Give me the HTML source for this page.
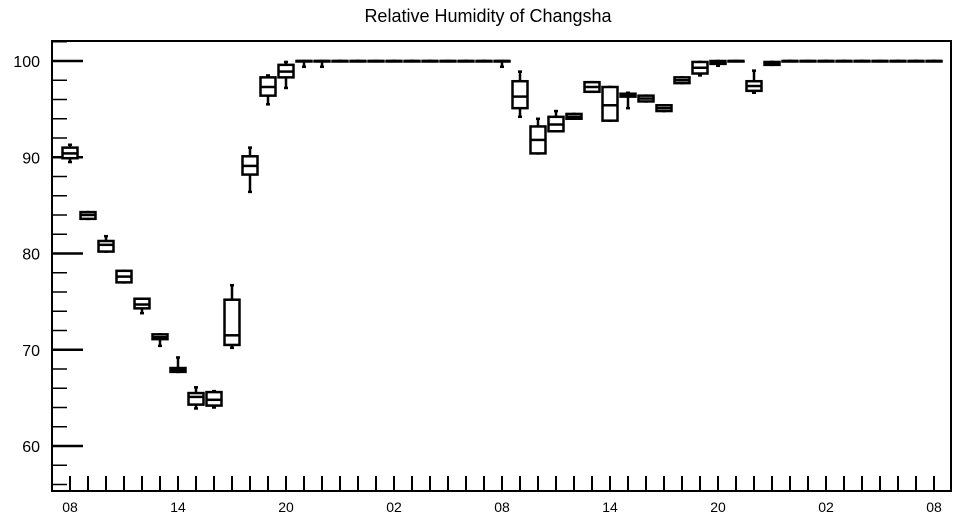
<!DOCTYPE html>
<html><head><meta charset="utf-8"><style>
html,body{margin:0;padding:0;background:#fff;}
svg{display:block;font-family:"Liberation Sans",Arial,sans-serif;}
</style></head><body>
<svg id="chart" width="957" height="520" viewBox="0 0 957 520" xmlns="http://www.w3.org/2000/svg">
<rect x="0" y="0" width="957" height="520" fill="#fff"/>
<text x="488" y="22" font-size="18" text-anchor="middle" fill="#000">Relative Humidity of Changsha</text>
<g id="grid"></g>
<g id="boxes"></g>
<rect x="52" y="41" width="899" height="450" fill="none" stroke="#000" stroke-width="2"/>
</svg>
<script>
const hours = [];
for (let i = 0; i <= 48; i++) hours.push(i);
const xTickLabels = ["08","14","20","02","08","14","20","02","08"];
const yTickLabels = [60,70,80,90,100];
const maxV = [91.3,84.3,81.8,78.2,75.3,71.6,69.2,66.1,65.7,76.7,91.0,98.5,99.9,100,100,100,100,100,100,100,100,100,100,100,100,98.9,94.0,94.8,94.5,97.8,97.3,96.7,96.4,95.4,98.3,99.9,100,100,99.0,99.9,100,100,100,100,100,100,100,100,100];
const q3V  = [91.0,84.3,81.3,78.2,75.3,71.6,68.1,65.5,65.6,75.2,90.1,98.3,99.6,100,100,100,100,100,100,100,100,100,100,100,100,97.9,93.2,94.2,94.5,97.8,97.3,96.6,96.4,95.4,98.3,99.9,100,100,97.9,99.9,100,100,100,100,100,100,100,100,100];
const medV = [90.4,84.0,80.9,77.6,74.7,71.3,67.9,65.1,64.8,71.5,89.1,97.3,98.9,100,100,100,100,100,100,100,100,100,100,100,100,96.3,91.8,93.4,94.2,97.3,95.4,96.5,96.1,95.1,98.0,99.3,99.9,100,97.4,99.8,100,100,100,100,100,100,100,100,100];
const q1V  = [89.9,83.6,80.2,77.0,74.3,71.1,67.7,64.3,64.2,70.5,88.2,96.4,98.3,100,100,100,100,100,100,100,100,100,100,100,100,95.1,90.4,92.7,94.0,96.8,93.8,96.3,95.8,94.8,97.7,98.7,99.7,100,96.9,99.6,100,100,100,100,100,100,100,100,100];
const minV = [89.5,83.6,80.2,77.0,73.8,70.4,67.7,63.9,64.0,70.2,86.4,95.5,97.2,99.4,99.4,100,100,100,100,100,100,100,100,100,99.4,94.2,90.4,92.9,94.0,96.8,93.8,95.1,95.8,94.8,97.7,98.5,99.5,100,96.7,99.6,100,100,100,100,100,100,100,100,100];

const NS = "http://www.w3.org/2000/svg";
function X(h){ return 52 + (h + 1) * 18; }
function Y(v){ return 61 + (100 - v) * 9.625; }
function mk(tag, attrs, parent){
  const e = document.createElementNS(NS, tag);
  for (const k in attrs) e.setAttribute(k, attrs[k]);
  parent.appendChild(e);
  return e;
}
const grid = document.getElementById("grid");
const boxes = document.getElementById("boxes");
// y ticks
for (let v = 56; v <= 102; v += 2) {
  const major = v % 10 === 0;
  const t = mk("line", {x1:52, x2: major ? 83 : 67, y1: Y(v), y2: Y(v), stroke:"#000", "stroke-width": major ? 2.5 : 1.5}, grid);
  
  
}
yTickLabels.forEach(v => {
  const t = mk("text", {x: 40, y: Y(v) + 6, "font-size": 16, "text-anchor": "end"}, grid);
  t.textContent = String(v);
  
  
});
// x ticks
hours.forEach(h => {
  const t = mk("line", {x1: X(h), x2: X(h), y1: 476, y2: 491, stroke:"#000", "stroke-width": 2}, grid);
  
  
});
xTickLabels.forEach((s, i) => {
  const t = mk("text", {x: X(i * 6), y: 512, "font-size": 14, "text-anchor": "middle"}, grid);
  t.textContent = s;
  
  
});
// boxes
hours.forEach(h => {
  const g = mk("g", {stroke:"#000", "stroke-width": 2.5, fill:"none"}, boxes);
  
  
  const cx = X(h), w = 7.5;
  mk("line", {x1: cx, x2: cx, y1: Y(maxV[h]), y2: Y(q3V[h])}, g);
  mk("line", {x1: cx, x2: cx, y1: Y(q1V[h]), y2: Y(minV[h])}, g);
  mk("line", {x1: cx - 2, x2: cx + 2, y1: Y(maxV[h]), y2: Y(maxV[h])}, g);
  mk("line", {x1: cx - 2, x2: cx + 2, y1: Y(minV[h]), y2: Y(minV[h])}, g);
  const top = Y(q3V[h]), bot = Y(q1V[h]);
  mk("rect", {x: cx - w, y: top, width: 2 * w, height: Math.max(bot - top, 0.5), fill: "#fff"}, g);
  mk("line", {x1: cx - w, x2: cx + w, y1: Y(medV[h]), y2: Y(medV[h])}, g);
});
</script>
</body></html>
